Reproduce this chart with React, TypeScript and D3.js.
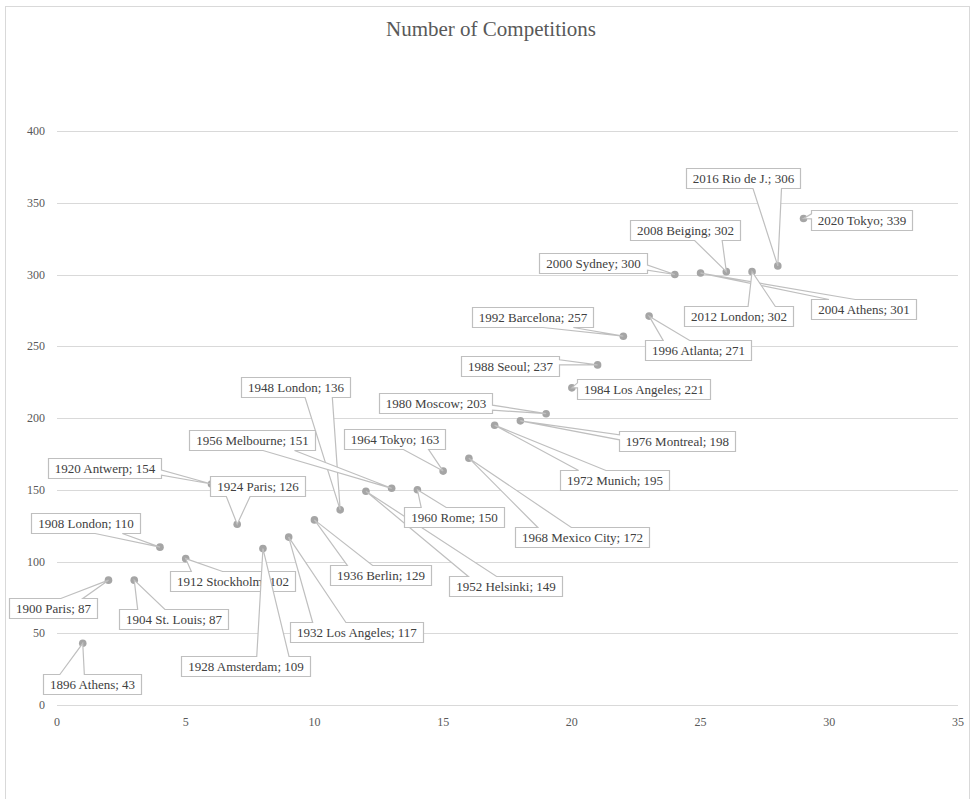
import React, { useRef, useEffect } from "react";
import * as d3 from "d3";

const width = 975;
const height = 799;

const games = [
  "1896 Athens", "1900 Paris", "1904 St. Louis", "1908 London", "1912 Stockholm",
  "1920 Antwerp", "1924 Paris", "1928 Amsterdam", "1932 Los Angeles", "1936 Berlin",
  "1948 London", "1952 Helsinki", "1956 Melbourne", "1960 Rome", "1964 Tokyo",
  "1968 Mexico City", "1972 Munich", "1976 Montreal", "1980 Moscow", "1984 Los Angeles",
  "1988 Seoul", "1992 Barcelona", "1996 Atlanta", "2000 Sydney", "2004 Athens",
  "2008 Beiging", "2012 London", "2016 Rio de J.", "2020 Tokyo"
];
const gameIndex = d3.range(1, games.length + 1);
const competitions = [
  43, 87, 87, 110, 102, 154, 126, 109, 117, 129,
  136, 149, 151, 150, 163, 172, 195, 198, 203, 221,
  237, 257, 271, 300, 301, 302, 302, 306, 339
];
const xTicks = [0, 5, 10, 15, 20, 25, 30, 35];
const yTicks = [0, 50, 100, 150, 200, 250, 300, 350, 400];

// label box centre, offset in px from its point (layout only)
const labelOffsets: [number, number][] = [
  [9, 41], [-55, 28], [39, 39], [-74, -24], [47, 22],
  [-107, -16], [20, -38], [-17, 117], [68, 95], [66, 55],
  [-45, -123], [140, 95], [-140, -48], [37, 27], [-49, -32],
  [113, 79], [120, 55], [157, 20], [-111, -11], [72, 1],
  [-88, 1], [-91, -19], [49, 34], [-82, -12], [163, 36],
  [-41, -42], [-14, 44], [-35, -88], [58, 1]
];

const font = "'Liberation Serif', serif";

function calloutPath(l: number, t: number, w: number, h: number, tx: number, ty: number) {
  const r = l + w, b = t + h;
  const dx = tx - (l + w / 2), dy = ty - (t + h / 2);
  const vertical = Math.abs(dy) / h > Math.abs(dx) / w;
  const xa = l + w * (dx > 0 ? 7 : 2) / 12, xb = l + w * (dx > 0 ? 10 : 5) / 12;
  const ya = t + h * (dy > 0 ? 7 : 2) / 12, yb = t + h * (dy > 0 ? 10 : 5) / 12;
  let p = `M${l},${t}`;
  if (vertical && dy < 0) p += `L${xa},${t}L${tx},${ty}L${xb},${t}`;
  p += `L${r},${t}`;
  if (!vertical && dx > 0) p += `L${r},${ya}L${tx},${ty}L${r},${yb}`;
  p += `L${r},${b}`;
  if (vertical && dy > 0) p += `L${xb},${b}L${tx},${ty}L${xa},${b}`;
  p += `L${l},${b}`;
  if (!vertical && dx < 0) p += `L${l},${yb}L${tx},${ty}L${l},${ya}`;
  return p + "Z";
}

export default function App() {
  const ref = useRef<SVGSVGElement | null>(null);

  useEffect(() => {
    document.body.style.margin = "0";
    const svg = d3.select(ref.current);
    svg.selectAll("*").remove();

    const x = d3.scaleLinear().domain([0, 35]).range([57, 958]);
    const y = d3.scaleLinear().domain([0, 400]).range([705, 131]);

    svg.append("rect").attr("width", width).attr("height", height).attr("fill", "#fff");
    svg.append("rect")
      .attr("x", 5.5).attr("y", 6.5).attr("width", 964).attr("height", height + 10)
      .attr("fill", "none").attr("stroke", "#d9d9d9");

    svg.append("text")
      .attr("x", 491).attr("y", 36)
      .attr("text-anchor", "middle")
      .style("font-family", font).attr("font-size", 21)
      .attr("fill", "#595959")
      .text("Number of Competitions");

    // gridlines + y labels
    svg.append("g").selectAll("line").data(yTicks).enter().append("line")
      .attr("x1", x(0)).attr("x2", x(35))
      .attr("y1", (d) => Math.round(y(d)) + 0.5).attr("y2", (d) => Math.round(y(d)) + 0.5)
      .attr("stroke", "#d9d9d9").attr("stroke-width", 1);

    svg.append("g").selectAll("text").data(yTicks).enter().append("text")
      .attr("x", 45).attr("y", (d) => y(d) + 4)
      .attr("text-anchor", "end")
      .style("font-family", font).attr("font-size", 12).attr("fill", "#595959")
      .text((d) => d);

    svg.append("g").selectAll("text").data(xTicks).enter().append("text")
      .attr("x", (d) => x(d)).attr("y", 726)
      .attr("text-anchor", "middle")
      .style("font-family", font).attr("font-size", 12).attr("fill", "#595959")
      .text((d) => d);

    // points
    svg.append("g").selectAll("circle").data(gameIndex).enter().append("circle")
      .attr("cx", (d) => x(d)).attr("cy", (d, i) => y(competitions[i]))
      .attr("r", 3.8).attr("fill", "#a5a5a5");

    // callout labels, drawn in series order so later ones sit on top
    const lg = svg.append("g");
    games.forEach((name, i) => {
      const px = x(gameIndex[i]);
      const py = y(competitions[i]);
      const [ox, oy] = labelOffsets[i];
      const g = lg.append("g");
      const path = g.append("path");
      const txt = g.append("text")
        .style("font-family", font).attr("font-size", 13).attr("fill", "#404040")
        .attr("text-anchor", "middle")
        .text(`${name}; ${competitions[i]}`);
      const tw = (txt.node() as SVGTextElement).getComputedTextLength();
      const w = Math.round(tw + 13);
      const h = 20;
      const cx = px + ox, cy = py + oy;
      const l = Math.round(cx - w / 2) + 0.5;
      const t = Math.round(cy - h / 2) + 0.5;
      path.attr("d", calloutPath(l, t, w, h, px, py))
        .attr("fill", "#fff").attr("stroke", "#bfbfbf").attr("stroke-width", 1.2);
      txt.attr("x", l + w / 2).attr("y", t + 14.5);
    });
  }, []);

  return <svg ref={ref} width={width} height={height} style={{ display: "block" }} />;
}
